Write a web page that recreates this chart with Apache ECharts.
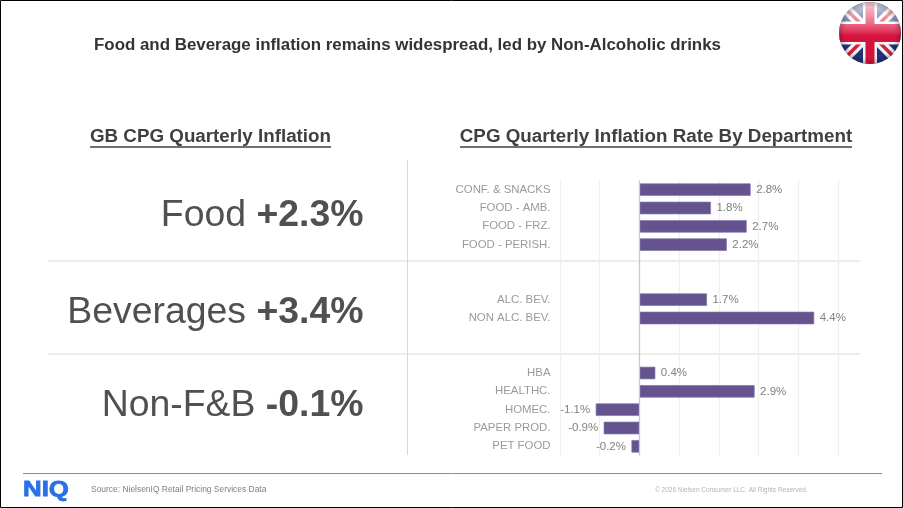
<!DOCTYPE html>
<html>
<head>
<meta charset="utf-8">
<style>html,body{margin:0;padding:0;background:#fff}#c{width:903px;height:508px}</style>
<script src="https://cdn.jsdelivr.net/npm/echarts@6/dist/echarts.min.js"></script>
</head>
<body>
<div id="c"></div>
<script>
const categories = ['CONF. & SNACKS','FOOD - AMB.','FOOD - FRZ.','FOOD - PERISH.','','','ALC. BEV.','NON ALC. BEV.','','','HBA','HEALTHC.','HOMEC.','PAPER PROD.','PET FOOD'];
const inflation = [2.8,1.8,2.7,2.2,null,null,1.7,4.4,null,null,0.4,2.9,-1.1,-0.9,-0.2];
const summaryNames = ['Food','Beverages','Non-F&B'];
const summaryValues = ['+2.3%','+3.4%','-0.1%'];
const FONT = '"Liberation Sans", Arial, sans-serif';

const flagSvg = `<svg xmlns="http://www.w3.org/2000/svg" width="124" height="124" viewBox="0 0 62 62">
<defs>
<clipPath id="k"><circle cx="31" cy="31" r="31"/></clipPath>
<linearGradient id="g" x1="0" y1="0" x2="0" y2="1">
<stop offset="0" stop-color="#fff" stop-opacity=".8"/>
<stop offset=".33" stop-color="#fff" stop-opacity=".4"/>
<stop offset=".5" stop-color="#fff" stop-opacity=".1"/>
<stop offset=".56" stop-color="#000" stop-opacity=".03"/>
<stop offset="1" stop-color="#000" stop-opacity=".08"/>
</linearGradient>
<radialGradient id="r" cx=".5" cy=".5" r=".5">
<stop offset=".82" stop-color="#000" stop-opacity="0"/>
<stop offset="1" stop-color="#000" stop-opacity=".22"/>
</radialGradient>
</defs>
<g clip-path="url(#k)">
<rect width="62" height="62" fill="#22357f"/>
<path d="M0 0L62 62M62 0L0 62" stroke="#fff" stroke-width="10"/>
<path d="M0 0L62 62M62 0L0 62" stroke="#e0203f" stroke-width="3.4"/>
<path d="M31 0V62" stroke="#fff" stroke-width="14"/>
<path d="M0 31H62" stroke="#fff" stroke-width="23"/>
<path d="M31 0V62" stroke="#dd1440" stroke-width="9"/>
<path d="M0 31H62" stroke="#dd1440" stroke-width="18"/>
<rect width="62" height="62" fill="url(#g)"/>
<rect width="62" height="62" fill="url(#r)"/>
</g></svg>`;

const graphics = [
  {type:'rect',shape:{x:0.5,y:0.5,width:902,height:507},style:{fill:'none',stroke:'#000',lineWidth:1},silent:true},
  {type:'text',x:94,y:45,style:{text:'Food and Beverage inflation remains widespread, led by Non-Alcoholic drinks',font:'bold 16.9px '+FONT,fill:'#333',textVerticalAlign:'middle'}},
  {type:'image',x:839,y:2,style:{image:'data:image/svg+xml;charset=utf-8,'+encodeURIComponent(flagSvg),width:62,height:62}},
  {type:'text',x:210.5,y:137,style:{text:'GB CPG Quarterly Inflation',font:'bold 18.8px '+FONT,fill:'#404040',textAlign:'center',textVerticalAlign:'middle'}},
  {type:'line',shape:{x1:90,y1:147,x2:331,y2:147},style:{stroke:'#404040',lineWidth:1.3}},
  {type:'text',x:656,y:137,style:{text:'CPG Quarterly Inflation Rate By Department',font:'bold 18.8px '+FONT,fill:'#404040',textAlign:'center',textVerticalAlign:'middle'}},
  {type:'line',shape:{x1:460,y1:147,x2:852,y2:147},style:{stroke:'#404040',lineWidth:1.3}},
  {type:'line',shape:{x1:407.5,y1:160,x2:407.5,y2:455},style:{stroke:'#d9d9d9',lineWidth:1}},
  {type:'line',shape:{x1:48,y1:261,x2:860,y2:261},style:{stroke:'#d9d9d9',lineWidth:1.2}},
  {type:'line',shape:{x1:48,y1:354,x2:860,y2:354},style:{stroke:'#d9d9d9',lineWidth:1.2}},
  {type:'line',shape:{x1:23,y1:473.5,x2:882,y2:473.5},style:{stroke:'#8c8c8c',lineWidth:1}},
  {type:'text',x:23,y:490,scaleX:1.2,style:{text:'NIQ',font:'bold 21.5px '+FONT,fill:'#2a6fe6',stroke:'#2a6fe6',lineWidth:0.8,textVerticalAlign:'middle'}},
  {type:'text',x:91,y:490,style:{text:'Source: NielsenIQ Retail Pricing Services Data',font:'8.45px '+FONT,fill:'#7f7f7f',textVerticalAlign:'middle'}},
  {type:'text',x:655,y:490,style:{text:'© 2026 Nielsen Consumer LLC. All Rights Reserved.',font:'6.5px '+FONT,fill:'#b3b3b3',textVerticalAlign:'middle'}}
];
const summaryY = [216,313,406];
summaryNames.forEach((n,i)=>{
  graphics.push({type:'text',x:363.5,y:summaryY[i],style:{
    text:'{a|'+n+' }{b|'+summaryValues[i]+'}',
    align:'right',verticalAlign:'middle',textAlign:'right',textVerticalAlign:'middle',
    rich:{a:{font:'37.4px '+FONT,fill:'#505050',color:'#505050'},b:{font:'bold 37.4px '+FONT,fill:'#505050',color:'#505050'}}
  }});
});

const chart = echarts.init(document.getElementById('c'),null,{renderer:'canvas'});
chart.setOption({
  animation:false,
  backgroundColor:'#fff',
  grid:{left:560,width:278,top:180.5,height:275,containLabel:false},
  xAxis:{type:'value',min:-2,max:5,interval:1,
    axisLabel:{show:false},axisLine:{show:false},axisTick:{show:false},
    splitLine:{show:true,lineStyle:{color:'#efefef',width:1.3}}},
  yAxis:{type:'category',inverse:true,data:categories,
    axisLine:{show:false,onZero:false},axisTick:{show:false},
    axisLabel:{interval:0,margin:9.5,color:'#9a9a9a',fontSize:11.4,fontFamily:FONT}},
  series:[{type:'bar',barWidth:12.5,
    data:inflation.map(v=>v===null?null:{value:v,label:{position:v<0?'left':'right'}}),
    itemStyle:{color:'#64538f',borderColor:'#8374a8',borderWidth:0.7},
    label:{show:true,distance:5.5,color:'#808080',fontSize:11.5,fontFamily:FONT,
      formatter:p=>p.value.toFixed(1)+'%'},
    markLine:{silent:true,symbol:'none',label:{show:false},animation:false,
      lineStyle:{color:'#c8c8c8',type:'solid',width:1.2},data:[{xAxis:0}]}
  }],
  graphic:{elements:graphics}
});
</script>
</body>
</html>
